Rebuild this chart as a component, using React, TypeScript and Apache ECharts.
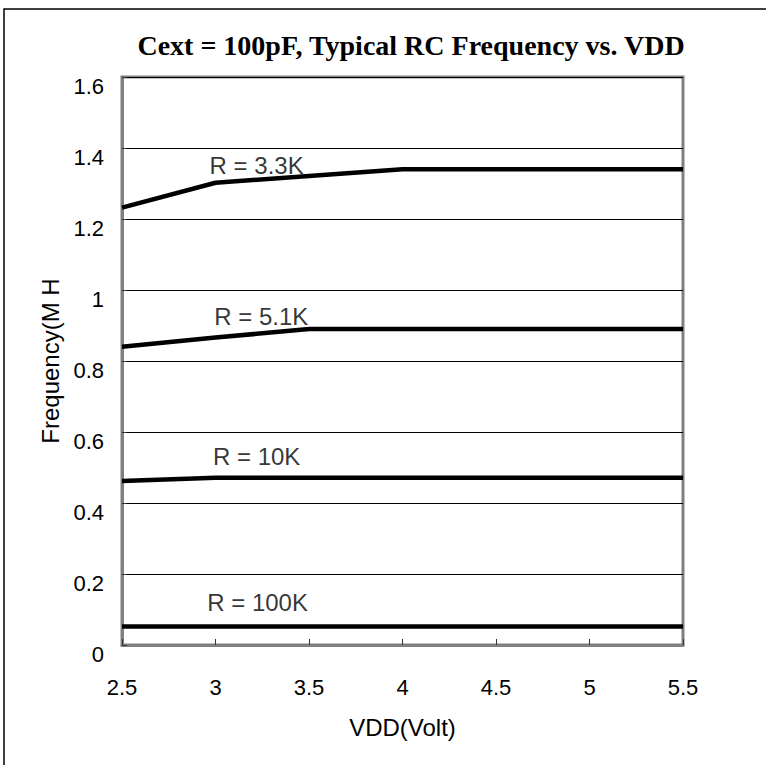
import React, { useEffect, useRef } from "react";
import * as echarts from "echarts";

const vdd = [2.5, 3, 3.5, 4, 4.5, 5, 5.5];
const r33k = [1.232, 1.302, 1.321, 1.34, 1.34, 1.34, 1.34];
const r51k = [0.84, 0.866, 0.89, 0.89, 0.89, 0.89, 0.89];
const r10k = [0.462, 0.471, 0.471, 0.471, 0.471, 0.471, 0.471];
const r100k = [0.052, 0.052, 0.052, 0.052, 0.052, 0.052, 0.052];
const curveNames = ["R = 3.3K", "R = 5.1K", "R = 10K", "R = 100K"];
const labelX = [3.22, 3.245, 3.22, 3.225];
const labelY = [1.352, 0.925, 0.531, 0.12];
const titleText = "Cext = 100pF, Typical RC Frequency vs. VDD";
const xName = "VDD(Volt)";
const yName = "Frequency(M H";

const FONT = "'Liberation Sans', Arial, sans-serif";

export default function App() {
  const ref = useRef<HTMLDivElement>(null);
  useEffect(() => {
    if (!ref.current) return;
    const chart = echarts.init(ref.current, null, { renderer: "svg" });
    const curves = [r33k, r51k, r10k, r100k];
    const series: any[] = curves.map((vals, i) => ({
      type: "line",
      name: curveNames[i],
      data: vdd.map((x, j) => [x, vals[j]]),
      showSymbol: false,
      symbol: "none",
      lineStyle: { color: "#000", width: 4.5 },
      z: 5,
    }));
    series.push({
      type: "scatter",
      symbolSize: 0,
      data: curveNames.map((n, i) => ({ name: n, value: [labelX[i], labelY[i]] })),
      label: {
        show: true,
        position: "inside",
        formatter: (p: any) => p.name,
        color: "#000",
        fontFamily: FONT,
        fontSize: 24,
      },
      z: 6,
    });
    chart.setOption({
      animation: false,
      backgroundColor: "#fff",
      title: {
        text: titleText,
        left: 406,
        textAlign: "center",
        top: 26,
        textStyle: {
          fontFamily: "'Liberation Serif', 'Times New Roman', serif",
          fontWeight: "bold",
          fontSize: 28,
          color: "#000",
        },
      },
      grid: {
        left: 122,
        right: 83,
        top: 77,
        bottom: 120,
        show: true,
        borderColor: "#808080",
        borderWidth: 3,
        backgroundColor: "#fff",
      },
      xAxis: {
        type: "value",
        min: 2.5,
        max: 5.5,
        interval: 0.5,
        name: xName,
        nameLocation: "middle",
        nameGap: 70,
        nameTextStyle: { fontFamily: FONT, fontSize: 24, color: "#000" },
        axisLine: { show: true, lineStyle: { color: "#808080", width: 3 } },
        axisTick: { show: true, inside: true, length: 6, lineStyle: { color: "#333", width: 1 } },
        axisLabel: {
          fontFamily: FONT,
          fontSize: 22,
          color: "#000",
          margin: 31,
          formatter: (v: number) => String(v),
        },
        splitLine: { show: false },
      },
      yAxis: {
        type: "value",
        min: 0,
        max: 1.6,
        interval: 0.2,
        name: yName,
        nameLocation: "middle",
        nameGap: 54,
        nameTextStyle: { fontFamily: FONT, fontSize: 24, color: "#000" },
        axisLine: { show: true, lineStyle: { color: "#808080", width: 3 } },
        axisTick: { show: true, inside: true, length: 5, lineStyle: { color: "#333", width: 1 } },
        axisLabel: {
          fontFamily: FONT,
          fontSize: 22,
          color: "#000",
          margin: 18,
          verticalAlign: "top",
          lineHeight: 18,
          formatter: (v: number) => String(Math.round(v * 10) / 10),
        },
        splitLine: { show: true, lineStyle: { color: "#000", width: 1 } },
      },
      graphic: [
        {
          type: "polyline",
          shape: { points: [[4, 765], [4, 9], [766, 9]] },
          style: { stroke: "#000", lineWidth: 1.5, fill: "none" },
        },
      ],
      series,
    });
    return () => chart.dispose();
  }, []);
  return <div ref={ref} style={{ width: 766, height: 765, position: "absolute", left: 0, top: 0 }} />;
}
